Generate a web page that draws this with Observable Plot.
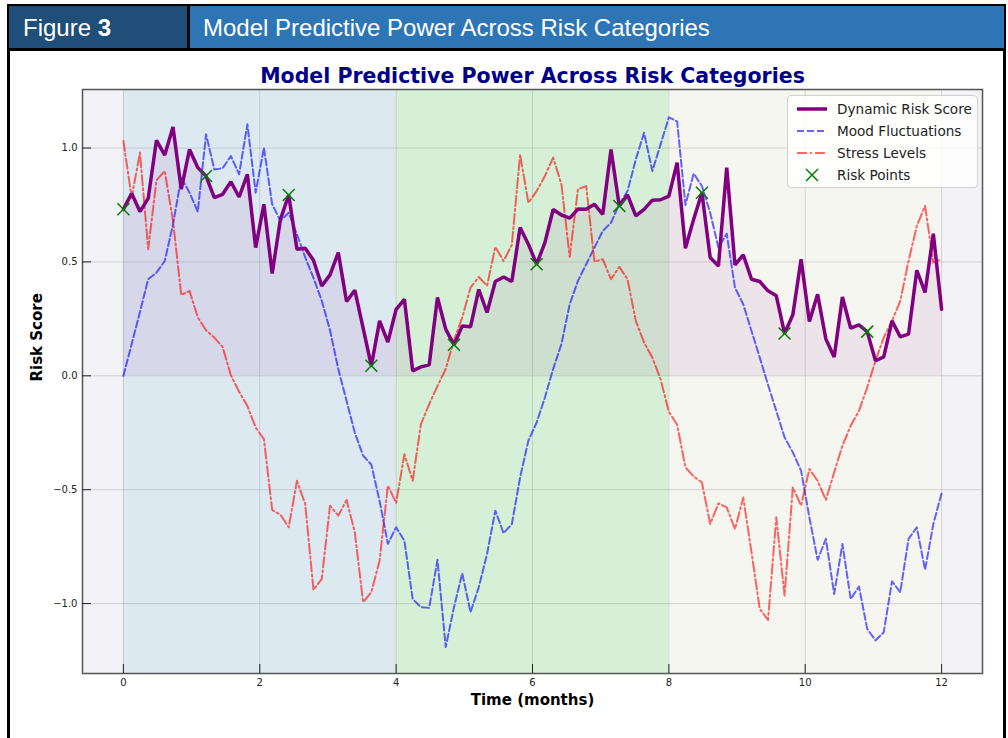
<!DOCTYPE html>
<html>
<head>
<meta charset="utf-8">
<script src="https://cdn.jsdelivr.net/npm/d3@7"></script>
<script src="https://cdn.jsdelivr.net/npm/@observablehq/plot@0.6"></script>
<style>
  html, body { margin: 0; padding: 0; background: #fff; }
  #wrap { position: relative; width: 1008px; height: 738px; overflow: hidden; background: #fff; font-family: "DejaVu Sans", sans-serif; }
  .abs { position: absolute; box-sizing: border-box; }
  #frame { left: 7px; top: 4px; width: 999px; height: 800px; border: 3px solid #000; }
  #hLeft { left: 9px; top: 6px; width: 178px; height: 43px; background: #1f4e79; }
  #hSep { left: 187px; top: 6px; width: 3px; height: 43px; background: #000; }
  #hRight { left: 190px; top: 6px; width: 814px; height: 43px; background: #2e75b6; }
  #hLine { left: 7px; top: 48px; width: 999px; height: 3px; background: #000; }
  .htxt { color: #fff; font-family: "Liberation Sans", Arial, sans-serif; font-size: 24px; line-height: 43px; top: 6px; white-space: nowrap; }
  #chart { left: 0; top: 51px; }
  #legend { left: 787px; top: 95px; width: 191px; height: 93px; background: rgba(255,255,255,0.85); border: 1px solid #d0d0d0; border-radius: 4px; }
  .lrow { position: absolute; left: 0; height: 22px; width: 190px; }
  .lrow svg { position: absolute; left: 8px; top: 0; }
  .lrow span { position: absolute; left: 49px; top: 2px; font-family: "DejaVu Sans", sans-serif; font-size: 13.6px; color: #222; white-space: nowrap; line-height: 18px; }
</style>
</head>
<body>
<div id="wrap">
  <div class="abs" id="frame"></div>
  <div class="abs" id="hLeft"></div>
  <div class="abs" id="hSep"></div>
  <div class="abs" id="hRight"></div>
  <div class="abs" id="hLine"></div>
  <div class="abs htxt" style="left:23px;">Figure <b>3</b></div>
  <div class="abs htxt" style="left:203px;">Model Predictive Power Across Risk Categories</div>
  <div class="abs" id="chart"></div>
  <div class="abs" id="legend">
    <div class="lrow" style="top:2px;"><svg width="34" height="22"><line x1="1" y1="11" x2="31" y2="11" stroke="purple" stroke-width="3.5"/></svg><span>Dynamic Risk Score</span></div>
    <div class="lrow" style="top:24px;"><svg width="34" height="22"><line x1="1" y1="11" x2="31" y2="11" stroke="#0000ff" stroke-opacity="0.6" stroke-width="2" stroke-dasharray="7,3"/></svg><span>Mood Fluctuations</span></div>
    <div class="lrow" style="top:46px;"><svg width="34" height="22"><line x1="1" y1="11" x2="31" y2="11" stroke="#ff0000" stroke-opacity="0.6" stroke-width="2" stroke-dasharray="10,3,2,3"/></svg><span>Stress Levels</span></div>
    <div class="lrow" style="top:68px;"><svg width="34" height="22"><path d="M10,5L22,17M22,5L10,17" stroke="green" stroke-width="1.5"/></svg><span>Risk Points</span></div>
  </div>
</div>
<script>
// ---------------- data ----------------
const riskScore = [
  0.731, 0.801, 0.721, 0.779, 1.034, 0.969, 1.092, 0.819, 0.994, 0.914,
  0.877, 0.782, 0.797, 0.852, 0.785, 0.885, 0.563, 0.753, 0.449, 0.687,
  0.794, 0.556, 0.560, 0.507, 0.395, 0.443, 0.541, 0.326, 0.376, 0.210,
  0.044, 0.241, 0.148, 0.292, 0.336, 0.022, 0.039, 0.048, 0.344, 0.205,
  0.136, 0.219, 0.215, 0.379, 0.278, 0.414, 0.434, 0.414, 0.651, 0.578,
  0.490, 0.585, 0.730, 0.706, 0.692, 0.732, 0.731, 0.753, 0.709, 0.994,
  0.746, 0.794, 0.702, 0.731, 0.771, 0.773, 0.789, 0.936, 0.560, 0.687,
  0.804, 0.519, 0.482, 0.914, 0.487, 0.531, 0.424, 0.414, 0.373, 0.351,
  0.186, 0.268, 0.512, 0.238, 0.358, 0.161, 0.083, 0.346, 0.209, 0.224,
  0.194, 0.066, 0.083, 0.241, 0.171, 0.183, 0.463, 0.366, 0.624, 0.292
];
const moodFluctuations = [
  0.000, 0.140, 0.280, 0.424, 0.453, 0.504, 0.665, 0.870, 0.804, 0.721,
  1.060, 0.906, 0.911, 0.965, 0.885, 1.104, 0.804, 1.001, 0.753, 0.680,
  0.716, 0.620, 0.520, 0.430, 0.330, 0.200, 0.030, -0.110, -0.250, -0.350,
  -0.390, -0.550, -0.738, -0.665, -0.724, -0.980, -1.016, -1.019, -0.808, -1.191,
  -1.016, -0.867, -1.038, -0.928, -0.782, -0.592, -0.691, -0.651, -0.446, -0.285,
  -0.205, -0.095, 0.030, 0.139, 0.314, 0.417, 0.490, 0.563, 0.636, 0.672,
  0.753, 0.811, 0.950, 1.067, 0.899, 1.016, 1.135, 1.117, 0.750, 0.888,
  0.833, 0.716, 0.563, 0.624, 0.387, 0.314, 0.197, 0.080, -0.040, -0.154,
  -0.270, -0.336, -0.417, -0.621, -0.808, -0.716, -0.958, -0.738, -0.980, -0.925,
  -1.111, -1.162, -1.126, -0.902, -0.950, -0.716, -0.665, -0.852, -0.651, -0.516
];
const stressLevels = [
  1.031, 0.782, 0.980, 0.556, 0.858, 0.899, 0.680, 0.355, 0.373, 0.256,
  0.200, 0.168, 0.127, 0.003, -0.070, -0.132, -0.227, -0.278, -0.589, -0.610,
  -0.665, -0.461, -0.563, -0.940, -0.892, -0.570, -0.614, -0.545, -0.687, -0.994,
  -0.950, -0.811, -0.482, -0.558, -0.344, -0.461, -0.212, -0.124, -0.045, 0.030,
  0.157, 0.256, 0.387, 0.434, 0.395, 0.566, 0.504, 0.575, 0.972, 0.760,
  0.811, 0.877, 0.958, 0.841, 0.522, 0.819, 0.833, 0.501, 0.512, 0.424,
  0.478, 0.424, 0.241, 0.146, 0.080, -0.015, -0.158, -0.215, -0.402, -0.442,
  -0.468, -0.651, -0.560, -0.578, -0.673, -0.534, -0.775, -1.023, -1.072, -0.621,
  -0.965, -0.490, -0.570, -0.409, -0.461, -0.545, -0.424, -0.307, -0.219, -0.154,
  -0.051, 0.066, 0.168, 0.241, 0.329, 0.504, 0.658, 0.746, 0.497, 0.512
];
const riskPointIndex = [0, 10, 20, 30, 40, 50, 60, 70, 80, 90];
const xTicks = [0, 2, 4, 6, 8, 10, 12];
const yTicks = [-1.0, -0.5, 0.0, 0.5, 1.0];
const spanStart = [0, 4, 8];
const spanEnd = [4, 8, 12];
const spanColor = ["#dde9f1", "#d5f0d6", "#f5f6f0"];

// sampling grid: 100 evenly spaced samples over 0..12 months
const months = riskScore.map((_, i) => i * 12 / (riskScore.length - 1));
const series = months.map((t, i) => ({t, risk: riskScore[i], mood: moodFluctuations[i], stress: stressLevels[i]}));
const riskPts = riskPointIndex.map(i => ({t: months[i], v: riskScore[i]}));
const spans = spanStart.map((s, i) => ({s, e: spanEnd[i], c: spanColor[i]}));

const chart = Plot.plot({
  width: 1008,
  height: 687,
  marginLeft: 82,
  marginRight: 26,
  marginTop: 38,
  marginBottom: 65,
  x: {domain: [-0.6, 12.6]},
  y: {domain: [-1.307, 1.257]},
  color: {type: "identity"},
  style: {fontFamily: "DejaVu Sans, sans-serif", fontSize: "10px", color: "#222", background: "transparent", overflow: "visible"},
  marks: [
    Plot.frame({fill: "#f2f2f7", stroke: null}),
    Plot.rect(spans, {x1: "s", x2: "e", fill: d => d.c}),
    Plot.gridX(xTicks, {stroke: "#888", strokeOpacity: 0.3, strokeWidth: 1}),
    Plot.gridY(yTicks, {stroke: "#888", strokeOpacity: 0.3, strokeWidth: 1}),
    Plot.areaY(series, {x: "t", y: "risk", fill: "purple", fillOpacity: 0.07}),
    Plot.line(series, {x: "t", y: "mood", stroke: "#0000ff", strokeOpacity: 0.6, strokeWidth: 2, strokeDasharray: "7,3"}),
    Plot.line(series, {x: "t", y: "stress", stroke: "#ff0000", strokeOpacity: 0.6, strokeWidth: 2, strokeDasharray: "10,3,2,3"}),
    Plot.line(series, {x: "t", y: "risk", stroke: "purple", strokeWidth: 3.5, strokeLinejoin: "miter"}),
    Plot.dot(riskPts, {x: "t", y: "v", symbol: "times", r: 5.5, stroke: "green", strokeWidth: 1.5}),
    Plot.frame({stroke: "#555", strokeWidth: 1.5}),
    Plot.axisX(xTicks, {tickSize: 0, tickPadding: 5, tickFormat: d3.format("d"), label: null, fontSize: 10}),
    Plot.axisX(xTicks, {tickSize: 9, dy: -9, tickFormat: () => "", label: null, stroke: "#222"}),
    Plot.axisY(yTicks, {tickSize: 0, tickPadding: 5, tickFormat: d3.format(".1f"), label: null, fontSize: 10}),
    Plot.axisY(yTicks, {tickSize: 9, dx: 9, tickFormat: () => "", label: null, stroke: "#222"}),
    Plot.text(["Model Predictive Power Across Risk Categories"], {text: d => d, frameAnchor: "top", lineAnchor: "middle", dy: -13, fontSize: 20.5, fontWeight: "bold", fill: "#00008b"}),
    Plot.text(["Risk Score"], {text: d => d, frameAnchor: "left", lineAnchor: "middle", dx: -45, rotate: -90, fontSize: 15, fontWeight: "bold", fill: "#000"}),
    Plot.text(["Time (months)"], {text: d => d, frameAnchor: "bottom", lineAnchor: "middle", dy: 27, fontSize: 15, fontWeight: "bold", fill: "#000"})
  ]
});
document.getElementById("chart").appendChild(chart);
</script>
</body>
</html>
